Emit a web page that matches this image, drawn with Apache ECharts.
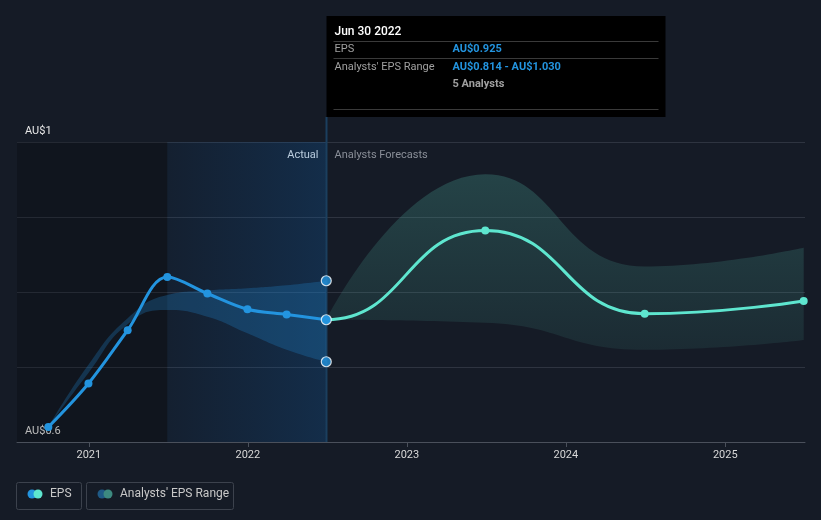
<!DOCTYPE html>
<html>
<head>
<meta charset="utf-8">
<script src="https://cdn.jsdelivr.net/npm/echarts@6/dist/echarts.min.js"></script>
<style>
html,body{margin:0;padding:0;background:#151b26;}
#c{width:821px;height:520px;}
</style>
</head>
<body>
<div id="c"></div>
<script>
// ---- data ----
var actualDates = ['2020-09-30','2020-12-31','2021-03-31','2021-06-30','2021-09-30','2021-12-31','2022-03-31','2022-06-30'];
var actualEps   = [0.620, 0.678, 0.749, 0.820, 0.798, 0.777, 0.770, 0.763];
var actualLow   = [0.620, 0.692, 0.757, 0.776, 0.767, 0.745, 0.723, 0.707];
var actualHigh  = [0.620, 0.703, 0.765, 0.796, 0.802, 0.805, 0.809, 0.815];

var forecastDates = ['2022-06-30','2023-06-30','2024-06-30','2025-06-30'];
var forecastEps   = [0.763, 0.882, 0.771, 0.788];
var forecastLow   = [0.763, 0.759, 0.723, 0.736];
var forecastHigh  = [0.763, 0.957, 0.834, 0.859];

var yTickLabels = {'1': 'AU$1', '0.6': 'AU$0.6'};
var tipDate = 'Jun 30 2022';
var tipEps = 'AU$0.925';
var tipRange = 'AU$0.814 - AU$1.030';
var tipAnalysts = '5 Analysts';
var axisMin = '2020-07-20', axisMax = '2025-07-03';
var pastStart = '2021-06-30', nowDate = '2022-06-30';

function pairs(d, v){ return d.map(function(x,i){ return [x, v[i]]; }); }
function diffs(d, lo, hi){ return d.map(function(x,i){ return [x, +(hi[i]-lo[i]).toFixed(4)]; }); }

var BLUE = '#2394df', TEAL = '#5ee6cf';
var chart = echarts.init(document.getElementById('c'));
var FONT = 'Roboto, "Open Sans", sans-serif';

// forecast line continues from the previous actual point (hidden before "now")
var nA = actualDates.length;
var forecastLine = [{value: [actualDates[nA-2], actualEps[nA-2]], symbol: 'none'}].concat(pairs(forecastDates, forecastEps));

var option = {
  backgroundColor: '#151b26',
  animation: false,
  textStyle: {fontFamily: FONT},
  grid: {left: 17, right: 16, top: 142, bottom: 78},
  xAxis: {
    type: 'time',
    min: axisMin, max: axisMax,
    axisLine: {lineStyle: {color: '#4a505b', width: 1}},
    axisTick: {show: true, length: 5, lineStyle: {color: '#4a505b'}},
    axisLabel: {color: '#d8d8d8', fontSize: 11, margin: 8, formatter: '{yyyy}', fontFamily: FONT},
    splitLine: {show: false}
  },
  yAxis: {
    type: 'value', min: 0.6, max: 1, interval: 0.1,
    axisLine: {show: false}, axisTick: {show: false},
    splitLine: {lineStyle: {color: '#2e3440', width: 1}},
    axisLabel: {
      inside: true, margin: 8, color: '#e8e8e8', fontSize: 11, fontFamily: FONT,
      verticalAlign: 'bottom', padding: [0,0,5,0],
      formatter: function(v){ var k = String(+v.toFixed(2)); return yTickLabels[k] || ''; }
    }
  },
  series: [
    {
      name: 'regions', type: 'line', data: [], silent: true,
      markArea: {
        silent: true,
        data: [
          [{xAxis: axisMin, itemStyle: {color: 'rgba(0,0,0,0.2)'}}, {xAxis: pastStart}],
          [{xAxis: pastStart, itemStyle: {color: {type:'linear', x:0, y:0, x2:1, y2:0,
            colorStops: [{offset:0, color:'rgba(10,90,170,0.08)'},{offset:1, color:'rgba(15,100,180,0.25)'}]}}},
           {xAxis: nowDate}]
        ]
      }
    },
    {
      name: 'aLow', type: 'line', stack: 'a', data: pairs(actualDates, actualLow),
      smooth: true, symbol: 'none', lineStyle: {opacity: 0}, silent: true
    },
    {
      name: 'aBand', type: 'line', stack: 'a', data: diffs(actualDates, actualLow, actualHigh),
      smooth: true, symbol: 'none', lineStyle: {opacity: 0}, silent: true,
      areaStyle: {color: 'rgba(35,140,215,0.38)'}
    },
    {
      name: 'fLow', type: 'line', stack: 'f', data: pairs(forecastDates, forecastLow),
      smooth: true, symbol: 'none', lineStyle: {opacity: 0}, silent: true
    },
    {
      name: 'fBand', type: 'line', stack: 'f', data: diffs(forecastDates, forecastLow, forecastHigh),
      smooth: true, symbol: 'none', lineStyle: {opacity: 0}, silent: true,
      areaStyle: {color: {type:'linear', x:0, y:0, x2:0, y2:1,
        colorStops: [{offset:0, color:'rgba(76,170,155,0.40)'},{offset:1, color:'rgba(76,170,155,0.16)'}]}}
    },
    {
      name: 'EPS', type: 'line', data: pairs(actualDates, actualEps), z: 4,
      smooth: 0.35, symbol: 'circle', symbolSize: 8,
      lineStyle: {color: BLUE, width: 3}, itemStyle: {color: BLUE}
    },
    {
      name: 'Forecast', type: 'line', data: forecastLine, z: 3,
      smooth: true, smoothMonotone: 'x', symbol: 'circle', symbolSize: 8,
      lineStyle: {width: 3, color: TEAL}, itemStyle: {color: TEAL}
    },
    {
      name: 'nowMarks', type: 'scatter', symbolSize: 10,
      data: [[nowDate, actualHigh[nA-1]], [nowDate, actualEps[nA-1]], [nowDate, actualLow[nA-1]]],
      itemStyle: {color: BLUE, borderColor: '#ffffff', borderWidth: 1.2}, z: 5
    }
  ]
};
chart.setOption(option);

var px = chart.convertToPixel({gridIndex: 0}, [nowDate, 1]);
var nx = Math.round(px[0]) + 0.5, gy = px[1];
var bottomPx = chart.convertToPixel({gridIndex: 0}, [nowDate, 0.6])[1];

// hide the part of the forecast line lying before "now"
var series = option.series.map(function(){ return {}; });
series[6] = {lineStyle: {color: {type: 'linear', global: true, x: px[0] - 1, y: 0, x2: px[0], y2: 0,
  colorStops: [{offset: 0, color: 'rgba(94,230,207,0)'}, {offset: 1, color: TEAL}]}}};

var bx = nx, by = 16, bw = 339, bh = 101;
var g = [
  {type: 'line', shape: {x1: nx, y1: by + bh, x2: nx, y2: bottomPx}, style: {stroke: '#1b3f5e', lineWidth: 2}, z: 1},
  {type: 'text', style: {text: 'Actual', x: nx - 8, y: gy + 13, align: 'right', verticalAlign: 'middle', fill: '#e8e8e8', font: '11px ' + FONT}},
  {type: 'text', style: {text: 'Analysts Forecasts', x: nx + 8, y: gy + 13, align: 'left', verticalAlign: 'middle', fill: '#8a8f98', font: '11px ' + FONT}},
  {type: 'rect', shape: {x: bx, y: by, width: bw, height: bh}, style: {fill: '#000000'}, z: 10},
  {type: 'text', style: {text: tipDate, x: bx + 8, y: by + 16, verticalAlign: 'middle', fill: '#ffffff', font: '500 12px ' + FONT}, z: 11},
  {type: 'line', shape: {x1: bx + 7, y1: by + 25.5, x2: bx + bw - 7, y2: by + 25.5}, style: {stroke: '#3a3a3a', lineWidth: 1}, z: 11},
  {type: 'text', style: {text: 'EPS', x: bx + 8, y: by + 33, verticalAlign: 'middle', fill: '#a0a0a0', font: '11px ' + FONT}, z: 11},
  {type: 'text', style: {text: tipEps, x: bx + 126, y: by + 33, verticalAlign: 'middle', fill: BLUE, font: 'bold 11px ' + FONT}, z: 11},
  {type: 'line', shape: {x1: bx + 7, y1: by + 42.5, x2: bx + bw - 7, y2: by + 42.5}, style: {stroke: '#3a3a3a', lineWidth: 1}, z: 11},
  {type: 'text', style: {text: "Analysts' EPS Range", x: bx + 8, y: by + 51, verticalAlign: 'middle', fill: '#a0a0a0', font: '11px ' + FONT}, z: 11},
  {type: 'text', style: {text: tipRange, x: bx + 126, y: by + 51, verticalAlign: 'middle', fill: BLUE, font: 'bold 11px ' + FONT}, z: 11},
  {type: 'text', style: {text: tipAnalysts, x: bx + 126, y: by + 68, verticalAlign: 'middle', fill: '#a0a0a0', font: 'bold 11px ' + FONT}, z: 11},
  {type: 'line', shape: {x1: bx + 7, y1: by + 93.5, x2: bx + bw - 7, y2: by + 93.5}, style: {stroke: '#3a3a3a', lineWidth: 1}, z: 11},
  // legend
  {type: 'rect', shape: {x: 16.5, y: 482.5, width: 65, height: 27, r: 2}, style: {fill: 'none', stroke: '#3c424d', lineWidth: 1}},
  {type: 'circle', shape: {cx: 32, cy: 494, r: 4.5}, style: {fill: BLUE}},
  {type: 'circle', shape: {cx: 38, cy: 494, r: 4.5}, style: {fill: TEAL}},
  {type: 'text', style: {text: 'EPS', x: 50, y: 494, verticalAlign: 'middle', fill: '#c8c8c8', font: '12px ' + FONT}},
  {type: 'rect', shape: {x: 86.5, y: 482.5, width: 147, height: 27, r: 2}, style: {fill: 'none', stroke: '#3c424d', lineWidth: 1}},
  {type: 'circle', shape: {cx: 102, cy: 494, r: 4.5}, style: {fill: '#1f5a86'}},
  {type: 'circle', shape: {cx: 108, cy: 494, r: 4.5}, style: {fill: '#3d8a80'}},
  {type: 'text', style: {text: "Analysts' EPS Range", x: 120, y: 494, verticalAlign: 'middle', fill: '#c8c8c8', font: '12px ' + FONT}}
];
chart.setOption({series: series, graphic: g});
</script>
</body>
</html>
